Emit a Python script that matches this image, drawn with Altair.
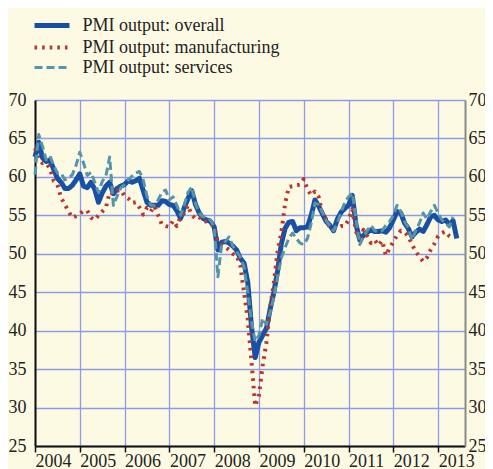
import altair as alt
import pandas as pd

start_year = 2004
series_names = ["PMI output: overall", "PMI output: manufacturing", "PMI output: services"]
series_colors = ["#1850A6", "#B8362E", "#5694A8"]
series_dash = [[1, 0], [2.6, 5], [8, 4]]
series_width = [5, 3, 5]
year_ticks = [2004, 2005, 2006, 2007, 2008, 2009, 2010, 2011, 2012, 2013]
y_ticks = [25, 30, 35, 40, 45, 50, 55, 60, 65, 70]

# monthly values from Jan 2004
overall = [62.6, 64.5, 62.5, 62.0, 62.2, 61.0, 59.8, 59.3, 58.5, 58.5,
           58.9, 59.6, 60.4, 58.8, 58.6, 59.3, 58.4, 56.7, 57.9, 58.8,
           59.3, 57.8, 58.5, 58.8, 59.0, 59.5, 59.3, 59.5, 59.8, 58.2,
           56.7, 56.3, 56.3, 56.3, 56.9, 56.8, 56.4, 56.3, 55.6, 54.6,
           56.0, 57.2, 58.2, 56.4, 55.3, 54.6, 54.4, 54.2, 53.5, 50.5,
           51.5, 51.6, 51.4, 51.0, 50.5, 49.4, 48.8, 46.3, 40.5, 36.5,
           38.5, 39.4, 40.3, 42.8, 45.0, 47.8, 51.3, 53.3, 54.1, 54.2,
           53.0, 53.4, 53.4, 53.5, 55.0, 57.0, 56.2, 55.2, 54.2, 53.7,
           53.0, 54.5, 55.4, 55.9, 56.3, 57.6, 53.8, 51.8, 52.4, 52.8,
           53.1, 52.9, 52.9, 53.0, 52.8, 53.4, 54.4, 55.5, 55.3, 54.0,
           53.3, 52.2, 52.8, 53.2, 52.9, 53.8, 54.8, 55.0, 54.4, 54.2,
           54.4, 53.8, 54.3, 52.0]
manufacturing = [63.7, 62.3, 61.8, 61.8, 61.1, 59.5, 59.0, 57.3, 56.4, 55.5,
                 54.7, 54.9, 55.2, 55.6, 55.6, 54.7, 54.4, 55.0, 55.5, 56.0,
                 58.0, 57.8, 58.2, 58.3, 57.5, 57.2, 56.6, 56.7, 56.0, 55.1,
                 56.0, 55.5, 56.2, 55.0, 53.8, 53.6, 53.5, 54.3, 53.6, 54.8,
                 55.3, 56.3, 55.0, 54.6, 54.8, 54.2, 54.2, 54.0, 53.5, 51.5,
                 51.2, 50.9, 50.5, 50.0, 49.8, 48.5, 45.0, 41.5, 36.0, 30.2,
                 31.6, 35.5, 38.5, 43.0, 46.3, 50.3, 52.8, 56.5, 58.7, 58.8,
                 58.9, 59.0, 59.7, 58.4, 57.6, 58.1, 57.4, 55.2, 54.5, 53.4,
                 53.3, 53.3, 53.6, 53.6, 54.4, 55.8, 52.9, 52.0, 53.1, 52.3,
                 51.4, 51.8, 51.1, 51.7, 49.8, 50.7, 51.6, 52.4, 53.0, 52.8,
                 52.3, 51.2, 50.3, 49.6, 49.0, 49.5, 50.5, 51.3, 52.3, 52.7,
                 52.9, 52.3, 52.0]
services = [60.3, 65.5, 64.0, 62.2, 62.7, 61.5, 60.5, 60.5, 59.6, 59.8,
            60.3, 61.5, 63.2, 61.8, 60.2, 60.6, 59.3, 58.0, 59.4, 60.1,
            62.6, 56.3, 57.5, 58.6, 59.0, 59.6, 60.1, 60.5, 60.7, 59.6,
            57.5, 56.3, 56.3, 57.0, 58.0, 58.3, 57.0, 57.4, 56.3, 55.0,
            56.4, 58.0, 58.7, 56.5, 55.3, 54.8, 54.8, 54.4, 53.5, 47.0,
            51.2, 51.6, 52.2, 51.0, 50.3, 49.6, 48.3, 45.0, 41.2, 38.6,
            39.4, 41.6, 40.8, 42.4, 44.4, 47.0, 49.5, 50.8, 52.0, 52.7,
            52.0, 51.4, 51.2, 52.0, 54.0, 56.6, 56.4, 55.4, 54.3, 53.6,
            53.0, 54.0, 55.4, 56.7, 57.4, 57.9, 54.5, 51.2, 52.2, 53.0,
            53.7, 53.0, 52.9, 53.0, 53.7, 54.2, 55.0, 56.3, 55.5, 54.2,
            53.4, 51.8, 53.0, 54.0, 55.3, 54.5, 55.5, 56.3, 55.3, 54.4,
            54.0, 53.5, 54.8]

rows = []
for name, vals in zip(series_names, [overall, manufacturing, services]):
    for i, v in enumerate(vals):
        rows.append({"t": start_year + i / 12.0, "value": v, "series": name})
df = pd.DataFrame(rows)

FONT = "Liberation Serif"
GRID = "#8E9CE8"

xscale = alt.Scale(domain=[2004, 2013.6], nice=False, zero=False)
yscale = alt.Scale(domain=[25, 70], nice=False, zero=False)

x_axis = alt.Axis(values=year_ticks, format="d", title=None, grid=True,
                  gridColor=GRID, gridWidth=1.3, domainColor="#111",
                  domainWidth=2, tickColor="#111", tickWidth=1.5, tickSize=6,
                  labelAlign="left", labelBaseline="top",
                  labelExpr="' ' + datum.label",
                  labelPadding=0, labelFont=FONT, labelFontSize=18,
                  labelColor="#222", labelOverlap=False, labelFlush=False)

left_axis = alt.Axis(values=y_ticks, title=None, orient="left", grid=True,
                     gridColor=GRID, gridWidth=1.3, domainColor="#111",
                     domainWidth=2, ticks=False, labelPadding=9,
                     labelFont=FONT, labelFontSize=18, labelColor="#222",
                     labelOverlap=False, labelFlush=False)

right_axis = alt.Axis(values=y_ticks, title=None, orient="right", grid=False,
                      domainColor="#8A8A8A", domainWidth=2, ticks=False,
                      labelPadding=3, labelFont=FONT, labelFontSize=18,
                      labelColor="#222", labelOverlap=False, labelFlush=False)

legend = alt.Legend(orient="none", legendX=5.5, legendY=-86, title=None,
                    symbolType="M-1.944,0H1.944", symbolSize=324, labelFont=FONT,
                    labelFontSize=18, labelColor="#222", labelOffset=19,
                    rowPadding=0.5, padding=0, labelLimit=400)

color_enc = alt.Color("series:N", scale=alt.Scale(domain=series_names, range=series_colors), legend=legend)
dash_enc = alt.StrokeDash("series:N", scale=alt.Scale(domain=series_names, range=series_dash), legend=legend)
width_enc = alt.StrokeWidth("series:N", scale=alt.Scale(domain=series_names, range=series_width), legend=legend)

layers = []
for name in series_names:
    layers.append(
        alt.Chart(df).transform_filter(alt.datum.series == name)
        .mark_line(strokeCap="butt", strokeJoin="round")
        .encode(
            x=alt.X("t:Q", scale=xscale, axis=x_axis),
            y=alt.Y("value:Q", scale=yscale, axis=left_axis),
            color=color_enc, strokeDash=dash_enc, strokeWidth=width_enc,
            order=alt.Order("t:Q"),
        )
    )

lines = alt.layer(*layers)

right = alt.Chart(df).mark_line(opacity=0).encode(
    x=alt.X("t:Q", scale=xscale, axis=x_axis),
    y=alt.Y("value:Q", scale=yscale, axis=right_axis),
    detail="series:N",
)

chart = alt.layer(lines, right).resolve_axis(y="independent").properties(
    width=430, height=346,
    autosize=alt.AutoSizeParams(type="none"),
    padding={"left": 27, "top": 92, "right": 20, "bottom": 23},
    background="#FDFAE4",
).configure_view(stroke=None)

chart.save("out.html", embed_options={"renderer": "svg", "actions": False})
